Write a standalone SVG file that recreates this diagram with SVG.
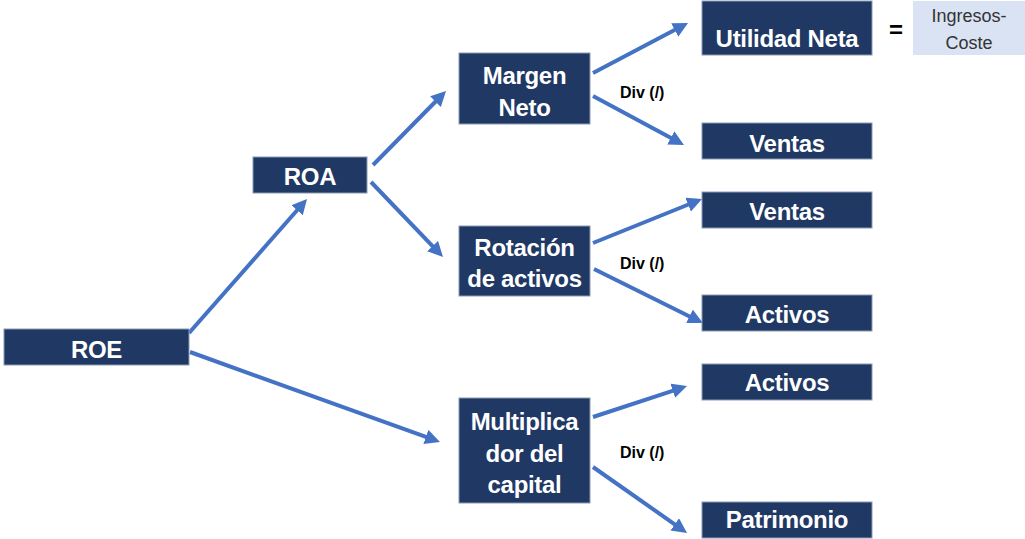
<svg xmlns="http://www.w3.org/2000/svg" width="1025" height="539" viewBox="0 0 1025 539">
<style>
.box{fill:#203864;stroke:#8a9ab3;stroke-width:1}
.lbl{font-family:"Liberation Sans",Arial,sans-serif;font-weight:bold;font-size:24px;fill:#ffffff;text-anchor:middle;letter-spacing:-0.3px}
.div{font-family:"Liberation Sans",Arial,sans-serif;font-weight:bold;font-size:16px;fill:#000000}
.conn line{stroke:#4472c4;stroke-width:4;marker-end:url(#ah)}
.note{font-family:"Liberation Sans",Arial,sans-serif;font-size:18px;fill:#333333;text-anchor:middle}
</style>
<defs>
<marker id="ah" markerUnits="userSpaceOnUse" markerWidth="16" markerHeight="16" refX="3" refY="7.5" orient="auto">
<path d="M0,0 L15,7.5 L0,15 z" fill="#4472c4"/>
</marker>
</defs>
<rect width="1025" height="539" fill="#ffffff"/>
<g class="conn" id="connectors">
<line x1="189" y1="333" x2="299.1" y2="208"/>
<line x1="190" y1="352" x2="428.7" y2="437.9"/>
<line x1="371" y1="182" x2="434.7" y2="248.3"/>
<line x1="373" y1="165" x2="437.6" y2="99.5"/>
<line x1="593" y1="73" x2="677.4" y2="28.6"/>
<line x1="593" y1="96" x2="673.4" y2="139.3"/>
<line x1="593" y1="243" x2="690.9" y2="203.5"/>
<line x1="594" y1="269" x2="692.2" y2="317.7"/>
<line x1="593" y1="417" x2="675.6" y2="389.8"/>
<line x1="593" y1="467" x2="677.2" y2="526.1"/>
</g>
<g id="roe"><rect class="box" x="4" y="329" width="185" height="36"/><text class="lbl" x="96.5" y="358">ROE</text></g>
<g id="roa"><rect class="box" x="253" y="157" width="114" height="36"/><text class="lbl" x="310" y="185">ROA</text></g>
<g id="margen"><rect class="box" x="459" y="53" width="131" height="71"/><text class="lbl" x="524.5" y="84">Margen</text><text class="lbl" x="524.5" y="116">Neto</text></g>
<g id="rotacion"><rect class="box" x="459" y="226" width="131" height="70"/><text class="lbl" x="524.5" y="256">Rotación</text><text class="lbl" x="524.5" y="287">de activos</text></g>
<g id="multiplicador"><rect class="box" x="459" y="398" width="131" height="105"/><text class="lbl" x="524.5" y="430">Multiplica</text><text class="lbl" x="524.5" y="462">dor del</text><text class="lbl" x="524.5" y="493">capital</text></g>
<g id="utilidad"><rect class="box" x="702" y="1" width="170" height="54"/><text class="lbl" x="787" y="47">Utilidad Neta</text></g>
<g id="ventas1"><rect class="box" x="702" y="123" width="170" height="36"/><text class="lbl" x="787" y="152">Ventas</text></g>
<g id="ventas2"><rect class="box" x="702" y="192" width="170" height="36"/><text class="lbl" x="787" y="220">Ventas</text></g>
<g id="activos1"><rect class="box" x="702" y="295" width="170" height="36"/><text class="lbl" x="787" y="323">Activos</text></g>
<g id="activos2"><rect class="box" x="702" y="364" width="170" height="36"/><text class="lbl" x="787" y="391">Activos</text></g>
<g id="patrimonio"><rect class="box" x="702" y="502" width="170" height="36"/><text class="lbl" x="787" y="528">Patrimonio</text></g>
<g id="ingresos"><rect x="913" y="1" width="112" height="54" fill="#dae3f3"/><text class="note" x="969" y="22">Ingresos-</text><text class="note" x="969" y="49">Coste</text></g>
<text x="896" y="38" font-family="Liberation Sans,Arial,sans-serif" font-weight="bold" font-size="24" text-anchor="middle" fill="#000000">=</text>
<text class="div" x="620" y="98">Div (/)</text>
<text class="div" x="620" y="269">Div (/)</text>
<text class="div" x="620" y="458">Div (/)</text>
</svg>
